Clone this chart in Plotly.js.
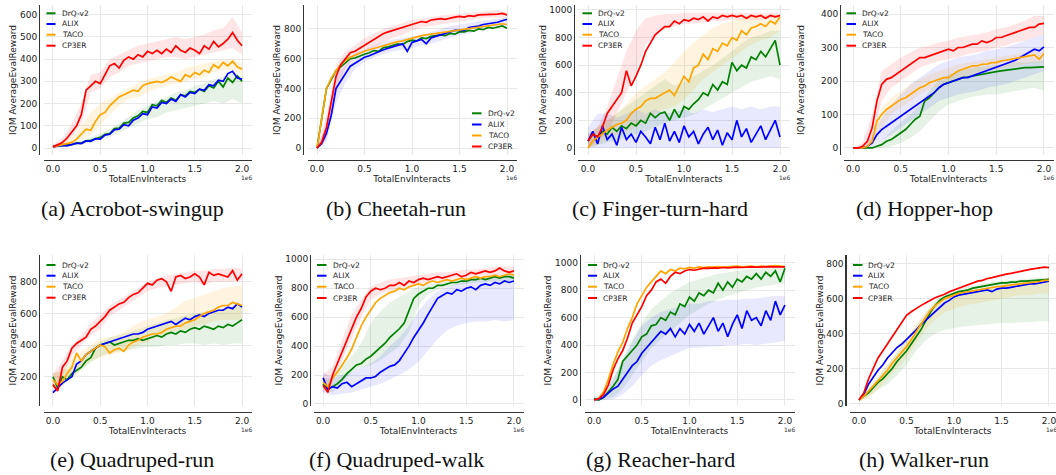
<!DOCTYPE html>
<html>
<head>
<meta charset="utf-8">
<script src="https://cdn.plot.ly/plotly-3.0.1.min.js"></script>
<style>
html,body{margin:0;padding:0;background:#fff;}
#chart{width:1056px;height:475px;}
</style>
</head>
<body>
<div id="chart"></div>
<script>
// ---------------- DATA ----------------
const METHODS = ['DrQ-v2', 'ALIX', 'TACO', 'CP3ER'];
const COLORS = ['#008000', '#0000ff', '#ffa500', '#ff0000'];
const BAND_COLORS = ['rgba(0,128,0,0.10)', 'rgba(0,0,255,0.09)', 'rgba(255,165,0,0.12)', 'rgba(255,0,0,0.10)'];
const X_TICKS = [0, 0.5, 1.0, 1.5, 2.0];
const X_TICK_TEXT = ['0.0', '0.5', '1.0', '1.5', '2.0'];
const TASKS = ['(a) Acrobot-swingup', '(b) Cheetah-run', '(c) Finger-turn-hard', '(d) Hopper-hop',
               '(e) Quadruped-run', '(f) Quadruped-walk', '(g) Reacher-hard', '(h) Walker-run'];

// environment steps (x1e6)
const STEPS = [0,0.05,0.1,0.15,0.2,0.25,0.3,0.35,0.4,0.45,0.5,0.55,0.6,0.65,0.7,0.75,0.8,0.85,0.9,0.95,
               1.0,1.05,1.1,1.15,1.2,1.25,1.3,1.35,1.4,1.45,1.5,1.55,1.6,1.65,1.7,1.75,1.8,1.85,1.9,1.95,2.0];
const BAND_STEPS = [0,0.1,0.2,0.3,0.4,0.5,0.6,0.7,0.8,0.9,1.0,1.1,1.2,1.3,1.4,1.5,1.6,1.7,1.8,1.9,2.0];

// (a) Acrobot-swingup
const acrobot_drq   = [8,12,10,16,15,22,22,32,35,42,48,62,65,88,90,112,115,135,145,165,160,195,190,215,205,225,215,240,235,255,250,265,255,280,270,300,275,315,295,325,300];
const acrobot_alix  = [5,8,12,10,15,22,20,32,30,42,40,58,62,82,85,105,100,125,135,155,150,185,180,205,200,220,210,240,230,250,245,265,260,285,280,305,300,335,345,315,310];
const acrobot_taco  = [5,10,15,20,25,40,65,85,80,120,150,160,190,210,230,240,250,260,255,280,290,295,300,295,305,320,310,300,330,320,340,330,350,340,375,360,385,370,390,365,355];
const acrobot_cp3er = [5,15,25,45,75,100,150,260,280,300,290,330,370,380,360,395,410,400,420,410,435,425,440,425,445,430,460,440,430,450,440,425,460,445,480,455,470,490,520,485,460];
const acrobot_drq_lo   = [0,5,10,15,25,35,50,70,90,110,130,140,160,170,180,190,200,210,200,220,200];
const acrobot_drq_hi   = [15,20,25,35,50,65,85,110,140,170,190,210,230,250,260,280,290,310,320,340,320];
const acrobot_taco_lo  = [0,10,15,40,60,100,150,190,220,230,250,270,280,290,300,310,320,340,350,350,330];
const acrobot_taco_hi  = [10,25,45,100,160,200,220,250,270,290,310,320,330,340,360,370,380,390,400,400,380];
const acrobot_cp3er_lo = [0,10,50,110,250,270,320,340,370,380,390,400,410,410,400,410,420,430,440,450,420];
const acrobot_cp3er_hi = [15,45,110,200,330,340,400,420,440,460,470,480,490,500,490,500,510,530,540,590,520];

// (b) Cheetah-run
const cheetah_drq   = [0,200,400,460,520,545,575,600,605,620,630,640,655,650,675,680,690,700,695,715,725,720,740,735,750,755,760,755,770,765,780,780,790,785,800,795,810,805,815,820,805];
const cheetah_alix  = [0,30,100,220,400,450,500,550,570,590,610,620,635,650,660,670,680,690,700,650,710,720,730,700,740,750,760,770,780,790,790,790,810,815,820,830,835,840,845,855,865];
const cheetah_taco  = [0,200,400,470,520,560,590,610,625,640,650,660,670,680,690,700,705,715,720,730,740,745,755,760,765,770,775,780,785,790,795,800,805,810,815,820,825,825,830,835,830];
const cheetah_cp3er = [0,40,140,320,480,560,600,640,650,670,690,710,730,750,770,780,790,800,810,820,835,840,850,845,860,865,870,865,875,880,885,880,890,885,895,895,900,895,900,905,895];
const cheetah_alix_lo  = [0,40,300,440,530,580,610,630,650,660,670,690,700,720,740,760,770,790,800,810,820];
const cheetah_alix_hi  = [0,160,480,560,640,660,690,710,730,740,750,760,780,800,820,830,840,850,860,870,880];
const cheetah_cp3er_lo = [0,60,380,540,610,650,680,710,740,760,790,810,820,830,840,850,860,870,875,880,880];
const cheetah_cp3er_hi = [0,220,560,650,690,740,770,800,820,840,860,870,880,890,900,905,910,915,920,925,915];

// (c) Finger-turn-hard
const finger_drq   = [50,100,80,120,100,150,120,160,140,180,160,200,180,250,220,250,260,200,280,220,300,280,320,350,400,380,460,420,480,460,620,560,600,580,660,640,700,660,720,780,600];
const finger_alix  = [50,120,30,160,60,100,20,150,60,100,40,120,80,30,150,60,180,50,120,40,160,80,120,30,100,150,60,130,20,110,60,200,80,140,40,100,160,60,130,200,80];
const finger_taco  = [0,50,80,100,130,150,170,180,200,250,280,300,340,360,360,380,400,420,380,450,520,480,580,600,680,640,720,700,760,740,800,780,850,820,870,880,900,880,920,900,950];
const finger_cp3er = [50,100,80,150,250,300,350,400,560,450,520,600,700,760,820,850,880,880,920,900,930,920,940,930,950,920,950,940,960,950,960,950,960,940,960,950,960,940,960,950,960];
const finger_drq_lo   = [0,20,40,60,80,100,120,150,180,200,220,240,280,320,360,400,440,480,500,520,500];
const finger_drq_hi   = [100,150,200,250,300,350,400,450,500,450,480,520,560,600,650,700,760,800,820,850,850];
const finger_alix_lo  = [0,0,0,0,0,0,0,0,0,0,0,0,0,0,0,0,0,0,0,0,0];
const finger_alix_hi  = [150,250,250,220,250,280,250,280,250,260,280,250,280,260,280,300,280,300,280,300,300];
const finger_taco_lo  = [0,20,60,100,120,150,200,250,280,300,350,420,500,550,600,650,700,750,780,800,850];
const finger_taco_hi  = [80,160,200,250,320,400,450,500,550,620,700,760,820,870,900,920,940,950,960,960,970];
const finger_cp3er_lo = [0,50,100,250,400,550,750,820,860,880,900,900,910,920,920,930,930,930,930,940,940];
const finger_cp3er_hi = [100,150,300,500,700,850,940,960,970,970,980,980,980,980,980,980,980,980,980,980,980];

// (d) Hopper-hop
const hopper_drq   = [0,0,0,0,0,5,10,20,25,35,45,55,70,85,95,140,150,165,180,190,195,200,205,210,212,215,218,220,222,225,228,230,232,235,237,238,240,240,240,242,242];
const hopper_alix  = [0,0,0,5,15,40,55,65,75,85,95,105,115,125,135,145,155,165,180,190,195,200,205,210,210,215,220,225,230,235,240,245,250,255,262,270,278,285,295,290,302];
const hopper_taco  = [0,0,0,5,20,80,100,115,125,135,145,150,160,170,180,185,195,200,205,210,210,220,230,235,240,245,245,250,250,255,255,260,262,265,268,270,272,275,278,265,282];
const hopper_cp3er = [0,0,5,20,60,140,190,205,210,220,230,240,250,260,270,270,275,280,285,290,295,290,300,300,305,310,310,320,315,320,330,330,335,340,345,350,355,360,360,370,372];
const hopper_drq_lo   = [0,0,0,0,5,15,30,50,80,110,130,140,150,155,160,160,165,170,175,180,170];
const hopper_drq_hi   = [0,0,5,20,50,75,100,130,170,200,220,230,235,240,245,248,250,255,255,258,258];
const hopper_alix_lo  = [0,0,5,20,40,60,80,100,120,140,150,160,165,170,180,185,190,200,210,220,230];
const hopper_alix_hi  = [0,5,40,90,130,160,190,210,230,250,260,270,275,280,290,295,300,310,320,330,340];
const hopper_taco_lo  = [0,0,5,60,100,120,140,160,175,185,195,205,215,225,230,235,240,245,250,255,255];
const hopper_taco_hi  = [0,0,30,120,150,170,190,205,220,230,240,250,255,260,265,270,275,280,285,290,300];
const hopper_cp3er_lo = [0,0,20,140,180,200,220,240,250,260,265,270,280,285,290,300,305,315,320,330,340];
const hopper_cp3er_hi = [0,15,100,230,250,270,285,300,305,315,320,330,335,340,345,355,360,370,380,395,395];

// (e) Quadruped-run
const qrun_drq   = [200,130,200,180,220,240,260,300,320,380,400,410,420,400,410,420,430,430,440,430,440,450,460,450,470,480,470,490,480,500,510,500,520,510,500,520,510,530,520,540,560];
const qrun_alix  = [100,130,160,180,200,280,300,340,360,380,400,410,420,430,440,450,460,470,470,480,500,510,520,530,540,550,530,550,570,560,580,590,580,600,610,620,620,640,630,660,640];
const qrun_taco  = [180,150,170,220,260,350,300,340,360,380,400,390,350,370,380,360,400,420,430,450,460,470,470,480,500,510,520,520,540,550,560,580,600,610,620,640,650,650,670,660,650];
const qrun_cp3er = [150,110,260,300,380,410,430,450,500,520,550,580,620,640,660,670,700,720,730,760,790,780,810,820,800,740,830,840,820,830,850,830,780,860,840,850,840,830,870,810,850];
const qrun_drq_lo   = [130,150,190,240,290,330,350,360,370,380,390,390,400,400,410,410,400,410,400,410,410];
const qrun_drq_hi   = [220,240,260,320,380,420,450,460,480,500,520,540,560,570,590,600,610,620,630,640,650];
const qrun_taco_lo  = [120,140,200,250,300,320,340,350,370,400,420,450,470,490,500,520,530,550,560,560,560];
const qrun_taco_hi  = [220,240,320,360,400,440,450,470,500,540,560,580,600,640,680,700,720,740,760,770,780];
const qrun_cp3er_lo = [110,200,330,400,460,500,580,620,660,700,740,760,770,780,790,800,780,800,800,800,810];
const qrun_cp3er_hi = [220,300,400,460,540,590,650,690,720,760,800,820,840,850,860,870,870,880,880,890,880];

// (f) Quadruped-walk
const qwalk_drq   = [140,100,120,140,170,210,240,270,280,310,330,360,390,420,460,490,520,560,650,730,760,780,800,800,820,820,830,840,840,850,850,860,860,870,860,870,880,870,880,880,870];
const qwalk_alix  = [180,100,120,110,140,150,120,140,160,180,180,190,220,240,260,270,300,350,400,460,510,560,620,680,730,750,770,760,790,780,800,810,790,820,830,820,840,830,850,840,850];
const qwalk_taco  = [150,120,180,220,270,320,380,460,540,600,650,700,730,750,770,780,800,790,810,820,830,820,840,850,840,850,860,850,860,870,860,870,880,870,880,880,890,880,890,900,890];
const qwalk_cp3er = [130,80,200,280,370,450,530,600,660,740,780,800,790,800,820,820,840,820,850,840,860,870,860,870,880,870,880,890,900,880,890,910,900,910,920,910,920,940,920,910,920];
const qwalk_drq_lo   = [100,80,150,220,250,270,300,350,400,500,680,760,790,810,820,830,840,840,850,850,850];
const qwalk_drq_hi   = [180,170,260,330,420,560,640,700,740,780,810,830,845,855,865,870,880,885,895,900,895];
const qwalk_alix_lo  = [80,60,70,80,100,120,140,170,200,240,290,370,450,510,540,560,570,570,580,570,580];
const qwalk_alix_hi  = [220,180,200,220,250,280,330,400,460,540,640,720,780,810,830,850,860,870,880,890,900];
const qwalk_cp3er_lo = [80,150,300,450,600,720,760,780,800,820,830,840,850,860,870,870,880,890,890,900,900];
const qwalk_cp3er_hi = [200,260,440,620,720,810,840,860,870,880,890,900,910,910,920,930,930,940,950,950,950];

// (g) Reacher-hard
const reacher_drq   = [10,0,20,60,100,150,280,320,360,400,460,480,540,550,600,580,640,620,700,680,750,720,780,760,800,780,850,800,860,820,880,860,900,880,920,880,930,900,940,860,960];
const reacher_alix  = [0,5,20,50,80,100,150,200,250,280,340,380,420,460,500,480,520,460,520,480,550,500,560,480,540,600,500,560,460,550,620,520,650,580,600,540,650,580,720,620,690];
const reacher_taco  = [0,10,60,150,260,350,420,520,600,700,760,820,860,900,940,920,950,940,960,955,965,960,970,965,970,968,972,968,970,972,975,970,972,975,970,975,972,975,978,975,972];
const reacher_cp3er = [0,10,40,110,220,300,360,450,560,620,680,760,800,860,880,850,900,930,920,940,950,945,955,960,958,962,960,965,962,965,968,965,968,970,968,970,968,972,970,972,970];
const reacher_drq_lo  = [0,0,20,80,180,280,380,440,500,560,620,660,700,730,760,780,800,820,830,840,850];
const reacher_drq_hi  = [20,60,160,300,440,560,660,720,780,820,860,880,900,920,930,940,950,960,965,970,975];
const reacher_alix_lo = [0,0,5,40,100,180,250,290,320,350,380,380,390,390,400,400,410,400,410,420,430];
const reacher_alix_hi = [10,40,150,280,420,540,600,640,660,680,700,700,720,720,730,730,740,740,750,760,760];

// (h) Walker-run
const walker_drq   = [20,40,60,90,120,140,170,200,240,270,300,340,380,420,470,520,560,590,610,620,630,640,645,650,660,665,670,675,680,685,690,690,695,695,700,700,702,705,705,708,710];
const walker_alix  = [20,50,110,150,190,220,260,290,320,340,365,390,420,450,475,500,530,555,575,590,610,620,625,630,635,640,645,650,640,655,660,660,665,670,675,680,685,685,690,695,700];
const walker_taco  = [20,40,70,100,130,160,190,230,260,295,325,365,410,450,490,530,560,580,600,610,620,630,635,640,645,650,655,660,665,668,670,675,680,682,685,688,690,695,698,705,705];
const walker_cp3er = [20,60,140,200,260,300,340,380,420,460,505,525,545,560,575,590,605,615,625,640,650,660,670,680,690,700,705,715,720,728,735,740,745,752,758,762,768,772,776,780,778];
const walker_drq_lo  = [10,40,80,110,160,220,300,360,400,420,430,440,445,450,455,460,460,465,465,470,470];
const walker_drq_hi  = [30,90,160,220,290,370,440,520,590,630,650,665,675,685,695,700,705,710,715,720,720];
const walker_taco_lo = [10,30,80,140,200,260,340,420,480,520,540,560,570,580,590,600,610,620,620,630,630];
const walker_taco_hi = [30,70,140,220,290,370,450,520,570,600,620,640,650,660,670,680,690,700,700,710,715];

// y tick values per panel
const Y_TICKS = [
  [0,100,200,300,400,500,600],
  [0,200,400,600,800],
  [0,200,400,600,800,1000],
  [0,100,200,300,400],
  [200,400,600,800],
  [0,200,400,600,800,1000],
  [0,200,400,600,800,1000],
  [0,200,400,600,800]
];

// ---------------- ASSEMBLY ----------------
const SERIES = [
  {lines:[acrobot_drq,acrobot_alix,acrobot_taco,acrobot_cp3er],
   bands:[[acrobot_drq_lo,acrobot_drq_hi],null,[acrobot_taco_lo,acrobot_taco_hi],[acrobot_cp3er_lo,acrobot_cp3er_hi]]},
  {lines:[cheetah_drq,cheetah_alix,cheetah_taco,cheetah_cp3er],
   bands:[null,[cheetah_alix_lo,cheetah_alix_hi],null,[cheetah_cp3er_lo,cheetah_cp3er_hi]]},
  {lines:[finger_drq,finger_alix,finger_taco,finger_cp3er],
   bands:[[finger_drq_lo,finger_drq_hi],[finger_alix_lo,finger_alix_hi],[finger_taco_lo,finger_taco_hi],[finger_cp3er_lo,finger_cp3er_hi]]},
  {lines:[hopper_drq,hopper_alix,hopper_taco,hopper_cp3er],
   bands:[[hopper_drq_lo,hopper_drq_hi],[hopper_alix_lo,hopper_alix_hi],[hopper_taco_lo,hopper_taco_hi],[hopper_cp3er_lo,hopper_cp3er_hi]]},
  {lines:[qrun_drq,qrun_alix,qrun_taco,qrun_cp3er],
   bands:[[qrun_drq_lo,qrun_drq_hi],null,[qrun_taco_lo,qrun_taco_hi],[qrun_cp3er_lo,qrun_cp3er_hi]]},
  {lines:[qwalk_drq,qwalk_alix,qwalk_taco,qwalk_cp3er],
   bands:[[qwalk_drq_lo,qwalk_drq_hi],[qwalk_alix_lo,qwalk_alix_hi],null,[qwalk_cp3er_lo,qwalk_cp3er_hi]]},
  {lines:[reacher_drq,reacher_alix,reacher_taco,reacher_cp3er],
   bands:[[reacher_drq_lo,reacher_drq_hi],[reacher_alix_lo,reacher_alix_hi],null,null]},
  {lines:[walker_drq,walker_alix,walker_taco,walker_cp3er],
   bands:[[walker_drq_lo,walker_drq_hi],null,[walker_taco_lo,walker_taco_hi],null]}
];

// panel geometry in pixels
const W = 1056, H = 475;
const PX = v => v / W, PY = v => 1 - v / H;
const GEOM = [
  {L:43.5, R:251.5, T:5,   B:155, xr:[-0.1,2.1],  yr:[-31.5,643.6], sx:39,    sy:159.7, ys:0,  leg:{x0:46.5,x1:55.5,tx:59.5,rows:[13.3,24,34.7,45.7]}},
  {L:307.5,R:516.5, T:5,   B:155, xr:[-0.1,2.1],  yr:[-47,961],     sx:303,   sy:159.7, ys:0,  leg:{x0:472,x1:481.5,tx:485.5,rows:[113.3,124.5,135.5,146.5]}},
  {L:578.4,R:789.6, T:5,   B:155, xr:[-0.1,2.1],  yr:[-51,1036],    sx:574,   sy:159.7, ys:0,  leg:{x0:582.5,x1:592,tx:595.5,rows:[13.3,24,34.7,45.7]}},
  {L:843.5,R:1053.5,T:5,   B:155, xr:[-0.1,2.1],  yr:[-21,427],     sx:840,   sy:159.7, ys:13, leg:{x0:846.5,x1:856,tx:860,rows:[13.3,24,34.7,45.7]}},
  {L:43.5, R:251.5, T:255, B:406, xr:[-0.1,2.1],  yr:[15,969],      sx:39,    sy:411.7, ys:0,  leg:{x0:46.5,x1:55.5,tx:59.5,rows:[265,275.7,286.7,297.7]}},
  {L:313.5,R:523.5, T:255, B:406, xr:[-0.1,2.1],  yr:[-14,1030],    sx:310,   sy:411.7, ys:0,  leg:{x0:317,x1:326.5,tx:330.5,rows:[265,275.7,286.7,298]}},
  {L:584.5,R:794.5, T:255, B:406, xr:[-0.1,2.1],  yr:[-44,1056],    sx:579.7, sy:411.7, ys:0,  leg:{x0:588,x1:597,tx:600.5,rows:[265,275.7,286.7,298]}},
  {L:849.5,R:1056,  T:255, B:406, xr:[-0.1,2.074],yr:[-15,850],     sx:845.3, sy:411.7, ys:0,  leg:{x0:853,x1:862.5,tx:866,rows:[265,275.7,286.7,298]}}
];

const traces = [];
const layout = {
  width: W, height: H,
  margin: {l:0, r:0, t:0, b:0},
  paper_bgcolor: '#ffffff', plot_bgcolor: '#ffffff',
  showlegend: false,
  font: {family: 'DejaVu Sans', color: '#222'},
  shapes: [], annotations: []
};

GEOM.forEach((g, i) => {
  const n = i + 1;
  const xa = n === 1 ? 'x' : 'x' + n;
  const ya = n === 1 ? 'y' : 'y' + n;
  const s = SERIES[i];
  // bands
  s.bands.forEach((b, k) => {
    if (!b) return;
    traces.push({
      type: 'scatter', mode: 'lines', xaxis: xa, yaxis: ya,
      x: BAND_STEPS.concat(BAND_STEPS.slice().reverse()),
      y: b[0].concat(b[1].slice().reverse()),
      fill: 'toself', fillcolor: BAND_COLORS[k], line: {width: 0},
      hoverinfo: 'skip', showlegend: false
    });
  });
  // mean lines
  s.lines.forEach((ys, k) => {
    traces.push({
      type: 'scatter', mode: 'lines', xaxis: xa, yaxis: ya,
      x: STEPS, y: ys, name: METHODS[k],
      line: {color: COLORS[k], width: 1.7},
      showlegend: false
    });
  });
  const axKeyX = n === 1 ? 'xaxis' : 'xaxis' + n;
  const axKeyY = n === 1 ? 'yaxis' : 'yaxis' + n;
  layout[axKeyX] = {
    domain: [PX(g.L), PX(g.R)], range: g.xr, anchor: 'free', position: PY(g.sy),
    showline: true, linecolor: '#333', linewidth: 1.2, mirror: false,
    showgrid: true, gridcolor: '#e8e8e8', gridwidth: 1, zeroline: false,
    ticks: '', tickmode: 'array', tickvals: X_TICKS, ticktext: X_TICK_TEXT,
    ticklabeloverflow: 'allow',
    tickfont: {size: 9, color: '#222', family: 'DejaVu Sans'},
    title: {text: 'TotalEnvInteracts', font: {size: 9, color: '#222', family: 'DejaVu Sans'}, standoff: 1},
    fixedrange: true
  };
  layout[axKeyY] = {
    domain: [PY(g.B), PY(g.T)], range: g.yr, anchor: 'free', position: PX(g.sx),
    showline: true, linecolor: '#333', linewidth: 1.2,
    showgrid: true, gridcolor: '#e8e8e8', gridwidth: 1, zeroline: false,
    ticks: '', tickmode: 'array', tickvals: Y_TICKS[i],
    tickfont: {size: 9, color: '#222', family: 'DejaVu Sans'},
    title: {text: 'IQM AverageEvalReward', font: {size: 9, color: '#222', family: 'DejaVu Sans'}, standoff: g.ys},
    fixedrange: true
  };
  // 1e6 offset label
  layout.annotations.push({
    xref: 'paper', yref: 'paper', x: PX(g.R - 4.5), y: PY(g.sy + 13),
    xanchor: 'center', yanchor: 'top', showarrow: false, borderpad: 0,
    text: '1e6', font: {size: 6, color: '#333', family: 'DejaVu Sans'}
  });
  // legend
  METHODS.forEach((m, k) => {
    const yy = PY(g.leg.rows[k]);
    layout.shapes.push({type: 'line', xref: 'paper', yref: 'paper',
      x0: PX(g.leg.x0), x1: PX(g.leg.x1), y0: yy, y1: yy,
      line: {color: COLORS[k], width: 2}});
    layout.annotations.push({xref: 'paper', yref: 'paper', x: PX(g.leg.tx), y: yy,
      xanchor: 'left', yanchor: 'middle', showarrow: false, text: m,
      font: {size: 7.5, color: '#222', family: 'DejaVu Sans'}});
  });
  // caption
  layout.annotations.push({
    xref: 'paper', yref: 'paper', x: PX(132 + 264 * (i % 4)), y: PY(i < 4 ? 208 : 459),
    xanchor: 'center', yanchor: 'middle', showarrow: false, text: TASKS[i],
    font: {size: 22, color: '#111', family: 'Liberation Serif'}
  });
});

Plotly.newPlot('chart', traces, layout, {staticPlot: true, displayModeBar: false});
</script>
</body>
</html>
